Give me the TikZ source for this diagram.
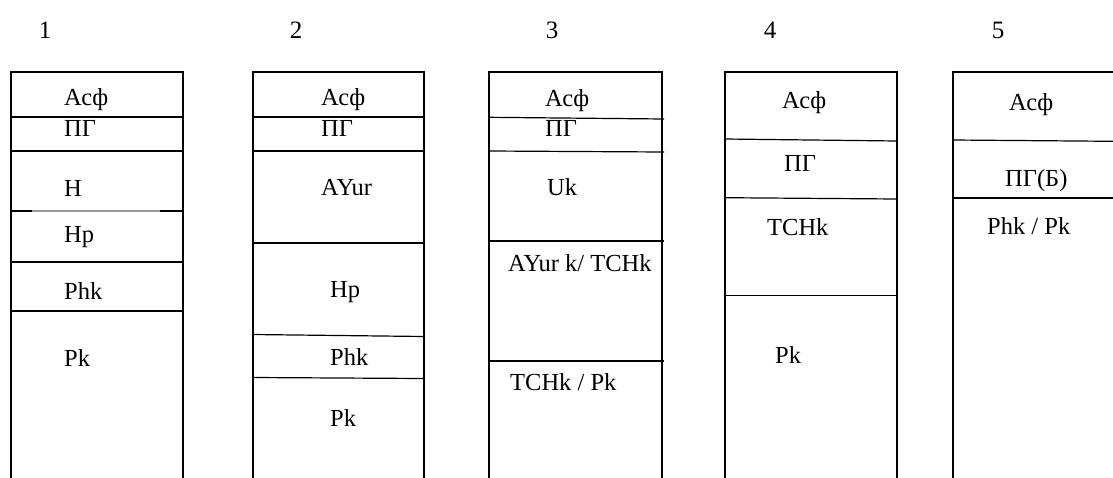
\documentclass[tikz,border=0pt]{standalone}
\usepackage{fontspec}
\setmainfont{Liberation Serif}
\begin{document}
\begin{tikzpicture}[x=1pt,y=-1pt,
  outer/.style={line width=2.8pt,line cap=rect},
  layer/.style={line width=1.2pt},
  faint/.style={line width=1.2pt,black!40},
  lbl/.style={inner sep=0pt,anchor=base west,font=\fontsize{24.5}{29}\selectfont},
  num/.style={inner sep=0pt,anchor=base,font=\fontsize{25}{30}\selectfont}]
\useasboundingbox (0,0) rectangle (1113,477);

% column numbers
\node[num] (n1) at (45,38) {1};
\node[num] (n2) at (296,38) {2};
\node[num] (n3) at (552,38) {3};
\node[num] (n4) at (770,38) {4};
\node[num] (n5) at (998,38) {5};

% ---- column 1
\draw[layer] (11,117) -- (183,117);
\draw[layer] (11,151) -- (183,151);
\draw[layer] (11,211) -- (32,211);
\draw[faint] (32,211) -- (160,211);
\draw[layer] (160,211) -- (183,211);
\draw[layer] (11,262) -- (183,262);
\draw[layer] (11,311) -- (183,311);
\draw[outer] (11,477) -- (11,72) -- (183,72) -- (183,477);
\node[lbl] (a1) at (64,105.7) {Асф};
\node[lbl] (b1) at (64,136.5) {ПГ};
\node[lbl] (c1) at (64,196) {Н};
\node[lbl] (d1) at (64,242.7) {Нр};
\node[lbl] (e1) at (64,299) {Phk};
\node[lbl] (f1) at (64,366.7) {Pk};

% ---- column 2
\draw[layer] (253,117) -- (424,117);
\draw[layer] (253,151) -- (424,151);
\draw[layer] (253,243) -- (424,243);
\draw[layer] (253,334.5) -- (424,336.5);
\draw[layer] (253,377.5) -- (424,378.5);
\draw[outer] (253,477) -- (253,72) -- (424,72) -- (424,477);
\node[lbl] (a2) at (321,105.7) {Асф};
\node[lbl] (b2) at (321,136) {ПГ};
\node[lbl] (c2) at (321,195) {AYur};
\node[lbl] (d2) at (330,297) {Нр};
\node[lbl] (e2) at (330,365) {Phk};
\node[lbl] (f2) at (330,426.7) {Pk};

% ---- column 3
\draw[layer] (489,117.3) -- (664,119);
\draw[layer] (489,151) -- (664,152);
\draw[layer] (489,241) -- (664,241);
\draw[layer] (489,361) -- (664,361);
\draw[outer] (489,477) -- (489,72) -- (662,72) -- (662,477);
\node[lbl] (a3) at (545,106.7) {Асф};
\node[lbl] (b3) at (545,136) {ПГ};
\node[lbl] (c3) at (547,195) {Uk};
\node[lbl] (d3) at (508,271.7) {AYur k/ TCHk};
\node[lbl] (e3) at (510,390) {TCHk / Pk};

% ---- column 4
\draw[layer] (725,139) -- (897,141);
\draw[layer] (725,197.7) -- (897,199);
\draw[layer] (725,295.7) -- (897,295.7);
\draw[outer] (725,477) -- (725,72) -- (897,72) -- (897,477);
\node[lbl] (a4) at (782,108) {Асф};
\node[lbl] (b4) at (784,171) {ПГ};
\node[lbl] (c4) at (767,235) {TCHk};
\node[lbl] (d4) at (775,363) {Pk};

% ---- column 5
\draw[layer] (953,140) -- (1113,141.3);
\draw[layer] (953,198) -- (1113,198);
\draw[outer] (953,477) -- (953,72) -- (1114,72);
\node[lbl] (a5) at (1009,110.7) {Асф};
\node[lbl] (b5) at (1005,186.7) {ПГ(Б)};
\node[lbl] (c5) at (987,234) {Phk / Pk};
\end{tikzpicture}
\end{document}
